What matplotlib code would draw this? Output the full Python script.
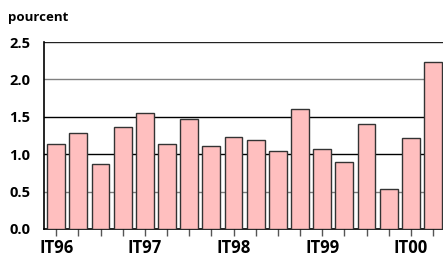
import matplotlib.pyplot as plt
import numpy as np

# valeurs trimestrielles, en pourcent
values = [1.13, 1.28, 0.87, 1.37, 1.55, 1.13, 1.47, 1.11,
          1.23, 1.19, 1.04, 1.60, 1.07, 0.89, 1.40, 0.54,
          1.22, 2.23]
quarter_labels = ['IT96', '', '', '', 'IT97', '', '', '',
                  'IT98', '', '', '', 'IT99', '', '', '',
                  'IT00', '']
y_ticks = [0.0, 0.5, 1.0, 1.5, 2.0, 2.5]

plt.rcParams['font.family'] = ['Open Sans', 'DejaVu Sans']
plt.rcParams['font.weight'] = 'bold'

fig = plt.figure(figsize=(4.43, 2.56), dpi=100)
ax = fig.add_axes([44/443, 1 - 229/256, 399/443, (229 - 42)/256])

x = np.arange(len(values))
ax.bar(x, values, width=0.8, color='#ffbfbf', edgecolor='#333333',
       linewidth=1.0, zorder=3)

# lignes horizontales
for yv in y_ticks[1:]:
    c = '#808080' if yv in (0.5, 2.0) else '#000000'
    if yv == 2.5:
        c = '#222222'
    ax.axhline(yv, color=c, linewidth=1.0, zorder=1)

ax.set_xlim(-0.55, len(values) - 0.55)
ax.set_ylim(0, 2.5)
ax.set_yticks(y_ticks)
ax.set_yticklabels(['%.1f' % v for v in y_ticks], fontsize=10.5, fontweight='bold')
ax.set_xticks(x)
ax.set_xticklabels(quarter_labels, fontsize=12, fontweight='bold')
ax.tick_params(axis='y', length=0, pad=10)
ax.tick_params(axis='x', length=5, width=1, color='#555555', pad=2)

for s in ['top', 'right']:
    ax.spines[s].set_visible(False)
ax.spines['left'].set_linewidth(1.2)
ax.spines['bottom'].set_linewidth(1.2)

fig.text(8/443, 1 - 17/256, 'pourcent', fontsize=9.5, fontweight='bold',
         va='center', ha='left')

fig.savefig('out.png', dpi=100)
